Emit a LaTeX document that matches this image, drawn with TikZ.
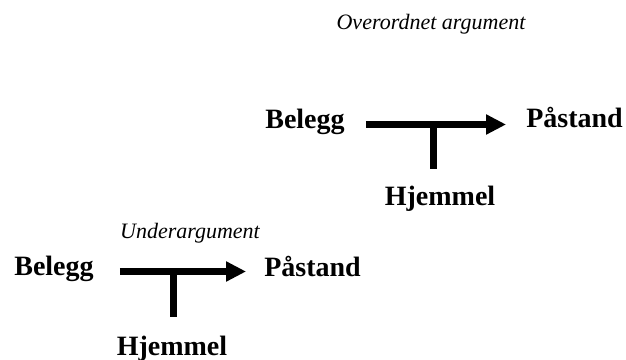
\documentclass[tikz,border=0pt]{standalone}
\usepackage{fontspec}
\setmainfont{Liberation Serif}
\usetikzlibrary{arrows.meta}
\tikzset{
  lbl/.style={font=\fontsize{28}{32}\selectfont\bfseries, inner sep=0pt, anchor=base},
  ttl/.style={font=\fontsize{22}{26}\selectfont\itshape, inner sep=0pt, anchor=base},
  tarrow/.style={line width=7pt, -{Triangle[length=20pt,width=19pt]}},
  stem/.style={line width=7pt}
}
\begin{document}
\begin{tikzpicture}[x=1pt,y=-1pt]
\useasboundingbox (0,0) rectangle (626,359);
% top argument
\node[ttl] (O) at (431,29) {Overordnet argument};
\node[lbl] (B1) at (305,128) {Belegg};
\node[lbl] (P1) at (574.5,127.5) {Påstand};
\node[lbl] (H1) at (440,205) {Hjemmel};
\coordinate (A1) at (433.5,124.5);
\draw[tarrow, shorten <=21pt, shorten >=20pt] (B1.east |- A1) -- (P1.west |- A1);
\draw[stem, shorten >=16pt] (A1) -- (A1 |- H1.north);
% bottom argument
\node[ttl] (U) at (190,238) {Underargument};
\node[lbl] (B2) at (54,275) {Belegg};
\node[lbl] (P2) at (312.5,276) {Påstand};
\node[lbl] (H2) at (172,355) {Hjemmel};
\coordinate (A2) at (173.5,271.5);
\draw[tarrow, shorten <=26pt, shorten >=18pt] (B2.east |- A2) -- (P2.west |- A2);
\draw[stem, shorten >=18pt] (A2) -- (A2 |- H2.north);
\end{tikzpicture}
\end{document}
